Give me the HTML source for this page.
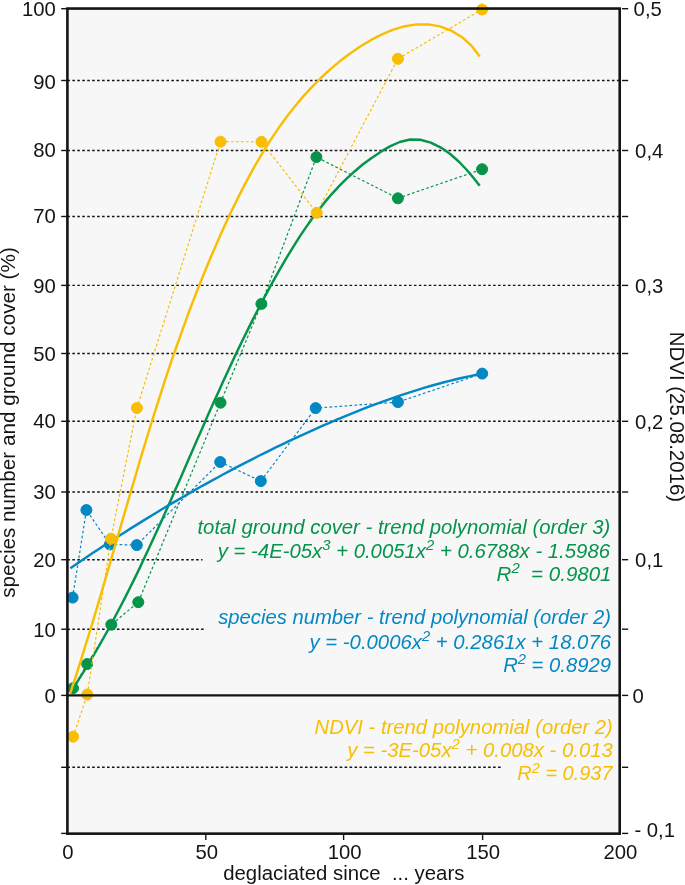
<!DOCTYPE html>
<html><head><meta charset="utf-8"><title>chart</title>
<style>
html,body{margin:0;padding:0;background:#fff;}
body{width:685px;height:885px;overflow:hidden;}
svg{display:block;will-change:transform;}
text{font-family:"Liberation Sans",sans-serif;font-size:19.4px;fill:#141414;}
.tk{font-size:20.6px;}
.ax{font-size:19.5px;} .ay{font-size:20.2px;} .ar{font-size:19.8px;}
.it{font-style:italic;font-size:19.5px;}
.sup{font-size:14.2px;}
</style></head><body>
<svg width="685" height="885" viewBox="0 0 685 885">
<rect x="0" y="0" width="685" height="885" fill="#fff"/>
<rect x="67.4" y="8.55" width="552.3" height="825.1" fill="#f7f7f7"/>
<g stroke="#141414" stroke-width="1.4" stroke-dasharray="2.6 2.35" fill="none"><line x1="67.4" y1="80.5" x2="619.7" y2="80.5"/><line x1="67.4" y1="150.5" x2="619.7" y2="150.5"/><line x1="67.4" y1="216.5" x2="619.7" y2="216.5"/><line x1="67.4" y1="285.4" x2="619.7" y2="285.4"/><line x1="67.4" y1="353.5" x2="619.7" y2="353.5"/><line x1="67.4" y1="421.3" x2="619.7" y2="421.3"/><line x1="67.4" y1="492.0" x2="619.7" y2="492.0"/><line x1="67.4" y1="559.7" x2="202.5" y2="559.7"/><line x1="67.4" y1="629.2" x2="204.5" y2="629.2"/><line x1="67.4" y1="767.3" x2="501" y2="767.3"/></g>
<g id="green" fill="none" stroke="#05944a">
<polyline points="73.0,688.2 87.2,664.0 111.3,624.7 138.3,602.2 220.5,402.7 261.4,303.9 316.4,157.1 397.9,198.3 482.1,169.2" stroke-width="1.2" stroke-dasharray="2.7 2.3"/>
<path d="M71.2,691.3 L77.1,682.2 L82.9,672.9 L88.6,663.7 L94.1,654.4 L99.6,645.0 L104.9,635.5 L110.1,626.1 L115.2,616.5 L120.2,607.0 L125.2,597.4 L130.0,587.7 L134.8,578.1 L139.5,568.4 L144.1,558.6 L148.7,548.8 L153.2,539.1 L157.7,529.2 L162.2,519.4 L166.6,509.6 L171.0,499.7 L175.3,489.8 L179.7,479.9 L184.0,470.0 L188.3,460.1 L192.6,450.2 L196.9,440.3 L201.3,430.4 L205.6,420.5 L210.0,410.6 L214.4,400.7 L218.9,390.9 L223.3,381.0 L227.9,371.2 L232.4,361.4 L237.1,351.6 L241.8,341.8 L246.6,332.1 L251.4,322.4 L256.3,312.7 L261.4,303.0 L266.5,293.4 L271.7,283.9 L277.0,274.3 L282.4,264.8 L288.0,255.4 L293.7,246.1 L299.5,236.9 L305.6,227.9 L311.8,219.0 L318.3,210.4 L325.0,201.9 L332.0,193.8 L339.3,185.9 L346.9,178.4 L354.8,171.2 L363.0,164.3 L371.6,157.9 L380.6,151.9 L389.9,146.4 L399.7,142.0 L409.9,139.5 L420.3,139.7 L430.8,142.6 L440.9,147.6 L450.2,154.0 L458.7,161.5 L466.4,169.5 L473.4,177.8 L479.7,185.8" stroke-width="2.45" stroke-linejoin="round"/>
<circle cx="73.0" cy="688.2" r="5.5" fill="#05944a"/><circle cx="87.2" cy="664.0" r="5.5" fill="#05944a"/><circle cx="111.3" cy="624.7" r="5.5" fill="#05944a"/><circle cx="138.3" cy="602.2" r="5.5" fill="#05944a"/><circle cx="220.5" cy="402.7" r="5.5" fill="#05944a"/><circle cx="261.4" cy="303.9" r="5.5" fill="#05944a"/><circle cx="316.4" cy="157.1" r="5.5" fill="#05944a"/><circle cx="397.9" cy="198.3" r="5.5" fill="#05944a"/><circle cx="482.1" cy="169.2" r="5.5" fill="#05944a"/>
</g>
<g id="blue" fill="none" stroke="#0388c4">
<polyline points="72.6,597.6 86.4,510.0 109.9,544.4 136.8,545.1 220.2,462.0 260.8,481.1 315.7,408.1 397.9,402.1 482.2,373.6" stroke-width="1.2" stroke-dasharray="2.7 2.3"/>
<path d="M70.4,568.2 L75.8,564.4 L81.3,560.7 L86.8,557.0 L92.3,553.3 L97.8,549.7 L103.3,546.0 L108.9,542.4 L114.4,538.8 L120.0,535.2 L125.6,531.7 L131.2,528.1 L136.9,524.6 L142.5,521.1 L148.2,517.6 L153.8,514.2 L159.5,510.7 L165.2,507.3 L170.9,503.9 L176.7,500.6 L182.4,497.2 L188.2,493.9 L193.9,490.6 L199.7,487.3 L205.5,484.1 L211.4,480.9 L217.2,477.7 L223.0,474.5 L228.9,471.4 L234.8,468.2 L240.7,465.1 L246.6,462.1 L252.5,459.1 L258.4,456.0 L264.4,453.1 L270.4,450.1 L276.3,447.2 L282.3,444.3 L288.3,441.4 L294.3,438.6 L300.4,435.8 L306.4,433.1 L312.5,430.3 L318.5,427.6 L324.6,424.9 L330.7,422.3 L336.8,419.7 L343.0,417.1 L349.1,414.6 L355.2,412.1 L361.4,409.6 L367.6,407.2 L373.8,404.9 L380.0,402.6 L386.2,400.3 L392.5,398.1 L398.8,395.9 L405.1,393.8 L411.4,391.8 L417.7,389.8 L424.0,387.9 L430.4,386.0 L436.8,384.2 L443.2,382.5 L449.6,380.9 L456.1,379.3 L462.5,377.8 L469.0,376.4 L475.5,375.0 L482.1,373.8" stroke-width="2.45" stroke-linejoin="round"/>
<circle cx="72.6" cy="597.6" r="5.5" fill="#0388c4"/><circle cx="86.4" cy="510.0" r="5.5" fill="#0388c4"/><circle cx="109.9" cy="544.4" r="5.5" fill="#0388c4"/><circle cx="136.8" cy="545.1" r="5.5" fill="#0388c4"/><circle cx="220.2" cy="462.0" r="5.5" fill="#0388c4"/><circle cx="260.8" cy="481.1" r="5.5" fill="#0388c4"/><circle cx="315.7" cy="408.1" r="5.5" fill="#0388c4"/><circle cx="397.9" cy="402.1" r="5.5" fill="#0388c4"/><circle cx="482.2" cy="373.6" r="5.5" fill="#0388c4"/>
</g>
<g id="yellow" fill="none" stroke="#f8be03">
<polyline points="73.1,736.7 87.3,694.5 110.9,538.7 136.9,408.0 220.5,141.7 261.5,141.8 316.7,212.8 397.9,58.8 482.1,9.5" stroke-width="1.2" stroke-dasharray="2.7 2.3"/>
<path d="M70.1,693.7 L74.0,681.9 L77.8,670.1 L81.5,658.2 L85.2,646.3 L88.9,634.5 L92.5,622.6 L96.1,610.7 L99.6,598.8 L103.1,586.8 L106.6,574.9 L110.1,563.0 L113.5,551.1 L117.0,539.1 L120.5,527.2 L123.9,515.3 L127.4,503.4 L130.9,491.4 L134.4,479.5 L137.9,467.6 L141.4,455.7 L145.0,443.9 L148.6,432.0 L152.3,420.2 L156.0,408.3 L159.8,396.5 L163.6,384.7 L167.5,372.9 L171.4,361.2 L175.5,349.5 L179.6,337.8 L183.8,326.1 L188.0,314.5 L192.4,302.9 L196.9,291.3 L201.5,279.8 L206.2,268.2 L211.0,256.8 L215.9,245.4 L220.9,234.0 L226.1,222.6 L231.4,211.3 L236.9,200.1 L242.5,188.9 L248.3,177.9 L254.3,166.9 L260.6,156.2 L267.0,145.5 L273.8,135.1 L280.8,124.9 L288.1,115.0 L295.8,105.3 L303.7,95.9 L312.1,86.8 L320.8,78.0 L329.9,69.6 L339.4,61.6 L349.4,54.0 L359.8,46.8 L370.7,40.2 L381.9,34.4 L393.3,29.7 L405.0,26.2 L416.7,24.4 L428.4,24.4 L440.0,26.4 L451.4,30.7 L462.1,37.2 L471.7,45.9 L479.7,56.6" stroke-width="2.45" stroke-linejoin="round"/>
<circle cx="73.1" cy="736.7" r="5.5" fill="#f8be03"/><circle cx="87.3" cy="694.5" r="5.5" fill="#f8be03"/><circle cx="110.9" cy="538.7" r="5.5" fill="#f8be03"/><circle cx="136.9" cy="408.0" r="5.5" fill="#f8be03"/><circle cx="220.5" cy="141.7" r="5.5" fill="#f8be03"/><circle cx="261.5" cy="141.8" r="5.5" fill="#f8be03"/><circle cx="316.7" cy="212.8" r="5.5" fill="#f8be03"/><circle cx="397.9" cy="58.8" r="5.5" fill="#f8be03"/><circle cx="482.1" cy="9.5" r="5.5" fill="#f8be03"/>
</g>
<g stroke="#141414" stroke-width="1.4" fill="none"><line x1="61.2" y1="8.7" x2="67.4" y2="8.7"/><line x1="61.2" y1="80.5" x2="67.4" y2="80.5"/><line x1="61.2" y1="150.5" x2="67.4" y2="150.5"/><line x1="61.2" y1="216.5" x2="67.4" y2="216.5"/><line x1="61.2" y1="285.4" x2="67.4" y2="285.4"/><line x1="61.2" y1="353.5" x2="67.4" y2="353.5"/><line x1="61.2" y1="421.3" x2="67.4" y2="421.3"/><line x1="61.2" y1="492.0" x2="67.4" y2="492.0"/><line x1="61.2" y1="559.7" x2="67.4" y2="559.7"/><line x1="61.2" y1="629.2" x2="67.4" y2="629.2"/><line x1="61.2" y1="695.4" x2="67.4" y2="695.4"/><line x1="61.2" y1="767.3" x2="67.4" y2="767.3"/><line x1="61.2" y1="833.4" x2="67.4" y2="833.4"/><line x1="622" y1="8.7" x2="628.2" y2="8.7"/><line x1="622" y1="80.5" x2="628.2" y2="80.5"/><line x1="622" y1="150.5" x2="628.2" y2="150.5"/><line x1="622" y1="216.5" x2="628.2" y2="216.5"/><line x1="622" y1="285.4" x2="628.2" y2="285.4"/><line x1="622" y1="353.5" x2="628.2" y2="353.5"/><line x1="622" y1="421.3" x2="628.2" y2="421.3"/><line x1="622" y1="492.0" x2="628.2" y2="492.0"/><line x1="622" y1="559.7" x2="628.2" y2="559.7"/><line x1="622" y1="629.2" x2="628.2" y2="629.2"/><line x1="622" y1="695.4" x2="628.2" y2="695.4"/><line x1="622" y1="767.3" x2="628.2" y2="767.3"/><line x1="622" y1="833.4" x2="628.2" y2="833.4"/><line x1="205.8" y1="833.6" x2="205.8" y2="840"/><line x1="343.6" y1="833.6" x2="343.6" y2="840"/><line x1="482.6" y1="833.6" x2="482.6" y2="840"/></g>
<line x1="67.4" y1="695.4" x2="619.7" y2="695.4" stroke="#141414" stroke-width="2.2"/>
<rect x="67.4" y="8.55" width="552.3" height="825.1" fill="none" stroke="#141414" stroke-width="2.6"/>
<g><text class="tk" transform="translate(55.8,15.5) scale(0.985,1)" text-anchor="end">100</text><text class="tk" transform="translate(55.8,89.2) scale(0.985,1)" text-anchor="end">90</text><text class="tk" transform="translate(55.8,157.3) scale(0.985,1)" text-anchor="end">80</text><text class="tk" transform="translate(55.8,223.1) scale(0.985,1)" text-anchor="end">70</text><text class="tk" transform="translate(55.8,292.6) scale(0.985,1)" text-anchor="end">90</text><text class="tk" transform="translate(55.8,360.7) scale(0.985,1)" text-anchor="end">50</text><text class="tk" transform="translate(55.8,428.0) scale(0.985,1)" text-anchor="end">40</text><text class="tk" transform="translate(55.8,499.2) scale(0.985,1)" text-anchor="end">30</text><text class="tk" transform="translate(55.8,566.5) scale(0.985,1)" text-anchor="end">20</text><text class="tk" transform="translate(55.8,637.3) scale(0.985,1)" text-anchor="end">10</text><text class="tk" transform="translate(55.8,702.6) scale(0.985,1)" text-anchor="end">0</text><text class="tk" transform="translate(633.6,15.5) scale(0.985,1)">0,5</text><text class="tk" transform="translate(635.1,157.7) scale(0.985,1)">0,4</text><text class="tk" transform="translate(635.1,292.6) scale(0.985,1)">0,3</text><text class="tk" transform="translate(635.1,428.5) scale(0.985,1)">0,2</text><text class="tk" transform="translate(635.1,566.9) scale(0.985,1)">0,1</text><text class="tk" transform="translate(632.5,702.6) scale(0.985,1)">0</text><text class="tk" transform="translate(634.4,836.8) scale(0.985,1)">- 0,1</text><text class="tk" transform="translate(68,858.8) scale(0.985,1)" text-anchor="middle">0</text><text class="tk" transform="translate(206.8,858.8) scale(0.985,1)" text-anchor="middle">50</text><text class="tk" transform="translate(344.6,858.8) scale(0.985,1)" text-anchor="middle">100</text><text class="tk" transform="translate(483.2,858.8) scale(0.985,1)" text-anchor="middle">150</text><text class="tk" transform="translate(620.3,858.8) scale(0.985,1)" text-anchor="middle">200</text></g>
<text id="xt" class="ax" transform="translate(223.2,879.6) scale(1.045,1)" xml:space="preserve">deglaciated since  ... years</text>
<text id="yt" class="ay" transform="translate(14.8,597.8) rotate(-90) scale(1.024,1)">species number and ground cover (%)</text>
<text id="rt" class="ar" transform="translate(670,331.8) rotate(90) scale(1.033,1)">NDVI (25.08.2016)</text>
<g class="it" text-anchor="end">
<text id="g1" class="it" transform="translate(610.2,533.6) scale(1.0413,1)" style="fill:#05944a" xml:space="preserve">total ground cover - trend polynomial (order 3)</text>
<text id="g2" class="it" transform="translate(610.0,557.8) scale(1.0436,1)" style="fill:#05944a" xml:space="preserve">y = -4E-05x<tspan class="sup" dy="-7.6">3</tspan><tspan dy="7.6"> + 0.0051x</tspan><tspan class="sup" dy="-7.6">2</tspan><tspan dy="7.6"> + 0.6788x - 1.5986</tspan></text>
<text id="g3" class="it" transform="translate(611.5,580.7) scale(1.052,1)" style="fill:#05944a" xml:space="preserve">R<tspan class="sup" dy="-7.6">2</tspan><tspan dy="7.6">  = 0.9801</tspan></text>
<text id="b1" class="it" transform="translate(611.0,624.3) scale(1.0392,1)" style="fill:#0388c4" xml:space="preserve">species number - trend polynomial (order 2)</text>
<text id="b2" class="it" transform="translate(611.0,648.5) scale(1.0433,1)" style="fill:#0388c4" xml:space="preserve">y = -0.0006x<tspan class="sup" dy="-7.6">2</tspan><tspan dy="7.6"> + 0.2861x + 18.076</tspan></text>
<text id="b3" class="it" transform="translate(611.0,671.6) scale(1.039,1)" style="fill:#0388c4" xml:space="preserve">R<tspan class="sup" dy="-7.6">2</tspan><tspan dy="7.6"> = 0.8929</tspan></text>
<text id="y1" class="it" transform="translate(612.8,733.7) scale(1.0388,1)" style="fill:#f8be03" xml:space="preserve">NDVI - trend polynomial (order 2)</text>
<text id="y2" class="it" transform="translate(612.8,756.8) scale(1.0417,1)" style="fill:#f8be03" xml:space="preserve">y = -3E-05x<tspan class="sup" dy="-7.6">2</tspan><tspan dy="7.6"> + 0.008x - 0.013</tspan></text>
<text id="y3" class="it" transform="translate(612.5,780.4) scale(1.0232,1)" style="fill:#f8be03" xml:space="preserve">R<tspan class="sup" dy="-7.6">2</tspan><tspan dy="7.6"> = 0.937</tspan></text>
</g>
</svg>
</body></html>
